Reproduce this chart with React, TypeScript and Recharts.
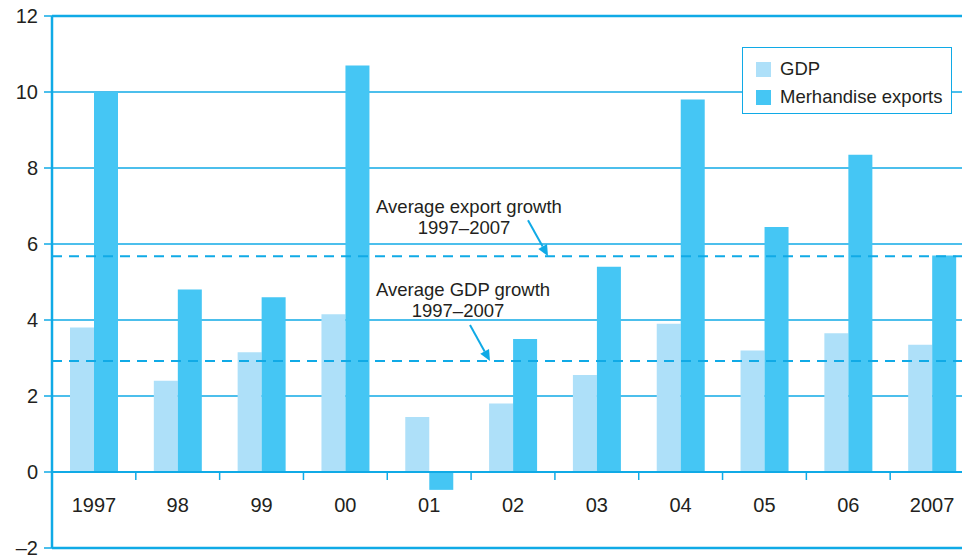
import { BarChart, Bar, XAxis, YAxis, CartesianGrid, ReferenceLine } from "recharts";

const years = ["1997", "98", "99", "00", "01", "02", "03", "04", "05", "06", "2007"];
const gdp = [3.8, 2.4, 3.15, 4.15, 1.45, 1.8, 2.55, 3.9, 3.2, 3.65, 3.35];
const exportsGrowth = [10.0, 4.8, 4.6, 10.7, -0.47, 3.5, 5.4, 9.8, 6.45, 8.35, 5.7];
const yTicks = [-2, 0, 2, 4, 6, 8, 10, 12];
const avgExport = 5.68;
const avgGdp = 2.92;

const data = years.map((year, i) => ({
  year,
  gdp: gdp[i],
  exports: exportsGrowth[i],
}));

const BLUE = "#10aae6";
const GDP_COLOR = "#aee0f9";
const EXP_COLOR = "#45c6f4";
const TEXT = "#231f20";
const FONT = "'Liberation Sans', Arial, Helvetica, sans-serif";

const W = 980;
const H = 557;
const TOP = 16;
const BOTTOM = 8;
const X_AXIS_H = 1;
const Y_MIN = -2;
const Y_MAX = 12;
const PLOT_H = H - TOP - BOTTOM - X_AXIS_H;
const ZERO_Y = TOP + (PLOT_H * (Y_MAX - 0)) / (Y_MAX - Y_MIN);

function XTick(props: any) {
  const { x, payload, index } = props;
  const half = payload?.offset ?? 41.9;
  return (
    <g>
      {index > 0 && (
        <line x1={x - half} x2={x - half} y1={ZERO_Y} y2={ZERO_Y + 8} stroke={BLUE} strokeWidth={1.5} />
      )}
      <text x={x} y={ZERO_Y + 40} textAnchor="middle" fontSize={20} fill={TEXT} fontFamily={FONT}>
        {payload.value}
      </text>
    </g>
  );
}

function Arrow({ x1, y1, x2, y2 }: { x1: number; y1: number; y2: number; x2: number }) {
  const ang = Math.atan2(y2 - y1, x2 - x1);
  const len = 11;
  const w = 5;
  const bx = x2 - len * Math.cos(ang);
  const by = y2 - len * Math.sin(ang);
  const px = -Math.sin(ang) * w;
  const py = Math.cos(ang) * w;
  return (
    <g>
      <line x1={x1} y1={y1} x2={bx} y2={by} stroke={BLUE} strokeWidth={2} />
      <polygon points={`${x2},${y2} ${bx + px},${by + py} ${bx - px},${by - py}`} fill={BLUE} />
    </g>
  );
}

function makeNote(title: string, cx: number, textUp: number, arrowX: number) {
  return (props: any) => {
    const vb = props.viewBox || {};
    const y = vb.y;
    const left = vb.x;
    return (
      <g fontFamily={FONT} fontSize={18.5} fill={TEXT}>
        <text x={left + cx} y={y - textUp} textAnchor="middle">
          {title}
        </text>
        <text x={left + cx - 5} y={y - textUp + 21} textAnchor="middle">
          1997–2007
        </text>
        <Arrow x1={left + arrowX - 20} y1={y - 36} x2={left + arrowX} y2={y} />
      </g>
    );
  };
}

function LegendBox() {
  const items = [
    { label: "GDP", color: GDP_COLOR },
    { label: "Merhandise exports", color: EXP_COLOR },
  ];
  return (
    <div
      style={{
        position: "absolute",
        left: 742,
        top: 47,
        width: 210,
        height: 67,
        background: "#fff",
        border: `1.5px solid ${BLUE}`,
        boxSizing: "border-box",
        padding: "7px 0 0 13px",
        fontFamily: FONT,
        fontSize: 18.5,
        color: TEXT,
      }}
    >
      {items.map((it) => (
        <div key={it.label} style={{ display: "flex", alignItems: "center", height: 28 }}>
          <span style={{ display: "inline-block", width: 15, height: 15, background: it.color, marginRight: 9 }} />
          <span>{it.label}</span>
        </div>
      ))}
    </div>
  );
}

export default function App() {
  return (
    <div style={{ position: "absolute", left: 0, top: 0, width: 962, height: H, overflow: "hidden", background: "#fff" }}>
      <BarChart
        width={W}
        height={H}
        data={data}
        margin={{ top: TOP, right: 6, bottom: BOTTOM, left: 0 }}
        barGap={0}
        barSize={24}
      >
        <CartesianGrid vertical={false} stroke={BLUE} strokeWidth={1.5} />
        <XAxis
          dataKey="year"
          height={X_AXIS_H}
          axisLine={{ stroke: BLUE, strokeWidth: 2.5 }}
          tickLine={false}
          tick={<XTick />}
          interval={0}
        />
        <YAxis
          width={52}
          domain={[Y_MIN, Y_MAX]}
          ticks={yTicks}
          interval={0}
          axisLine={{ stroke: BLUE, strokeWidth: 2.5 }}
          tickLine={{ stroke: BLUE, strokeWidth: 1.5 }}
          tickSize={8}
          tickMargin={6}
          tick={{ fill: TEXT, fontSize: 20, fontFamily: FONT }}
          tickFormatter={(v: number) => (v < 0 ? `–${-v}` : `${v}`)}
        />
        <ReferenceLine y={Y_MAX} stroke={BLUE} strokeWidth={2.5} />
        <ReferenceLine y={0} stroke={BLUE} strokeWidth={2} />
        <Bar dataKey="gdp" name="GDP" fill={GDP_COLOR} isAnimationActive={false} />
        <Bar dataKey="exports" name="Merhandise exports" fill={EXP_COLOR} isAnimationActive={false} />
        <ReferenceLine
          y={avgExport}
          stroke={BLUE}
          strokeWidth={2}
          strokeDasharray="10 7"
          label={makeNote("Average export growth", 417, 43, 496)}
        />
        <ReferenceLine
          y={avgGdp}
          stroke={BLUE}
          strokeWidth={2}
          strokeDasharray="10 7"
          label={makeNote("Average GDP growth", 411, 65, 438)}
        />
      </BarChart>
      <LegendBox />
    </div>
  );
}
